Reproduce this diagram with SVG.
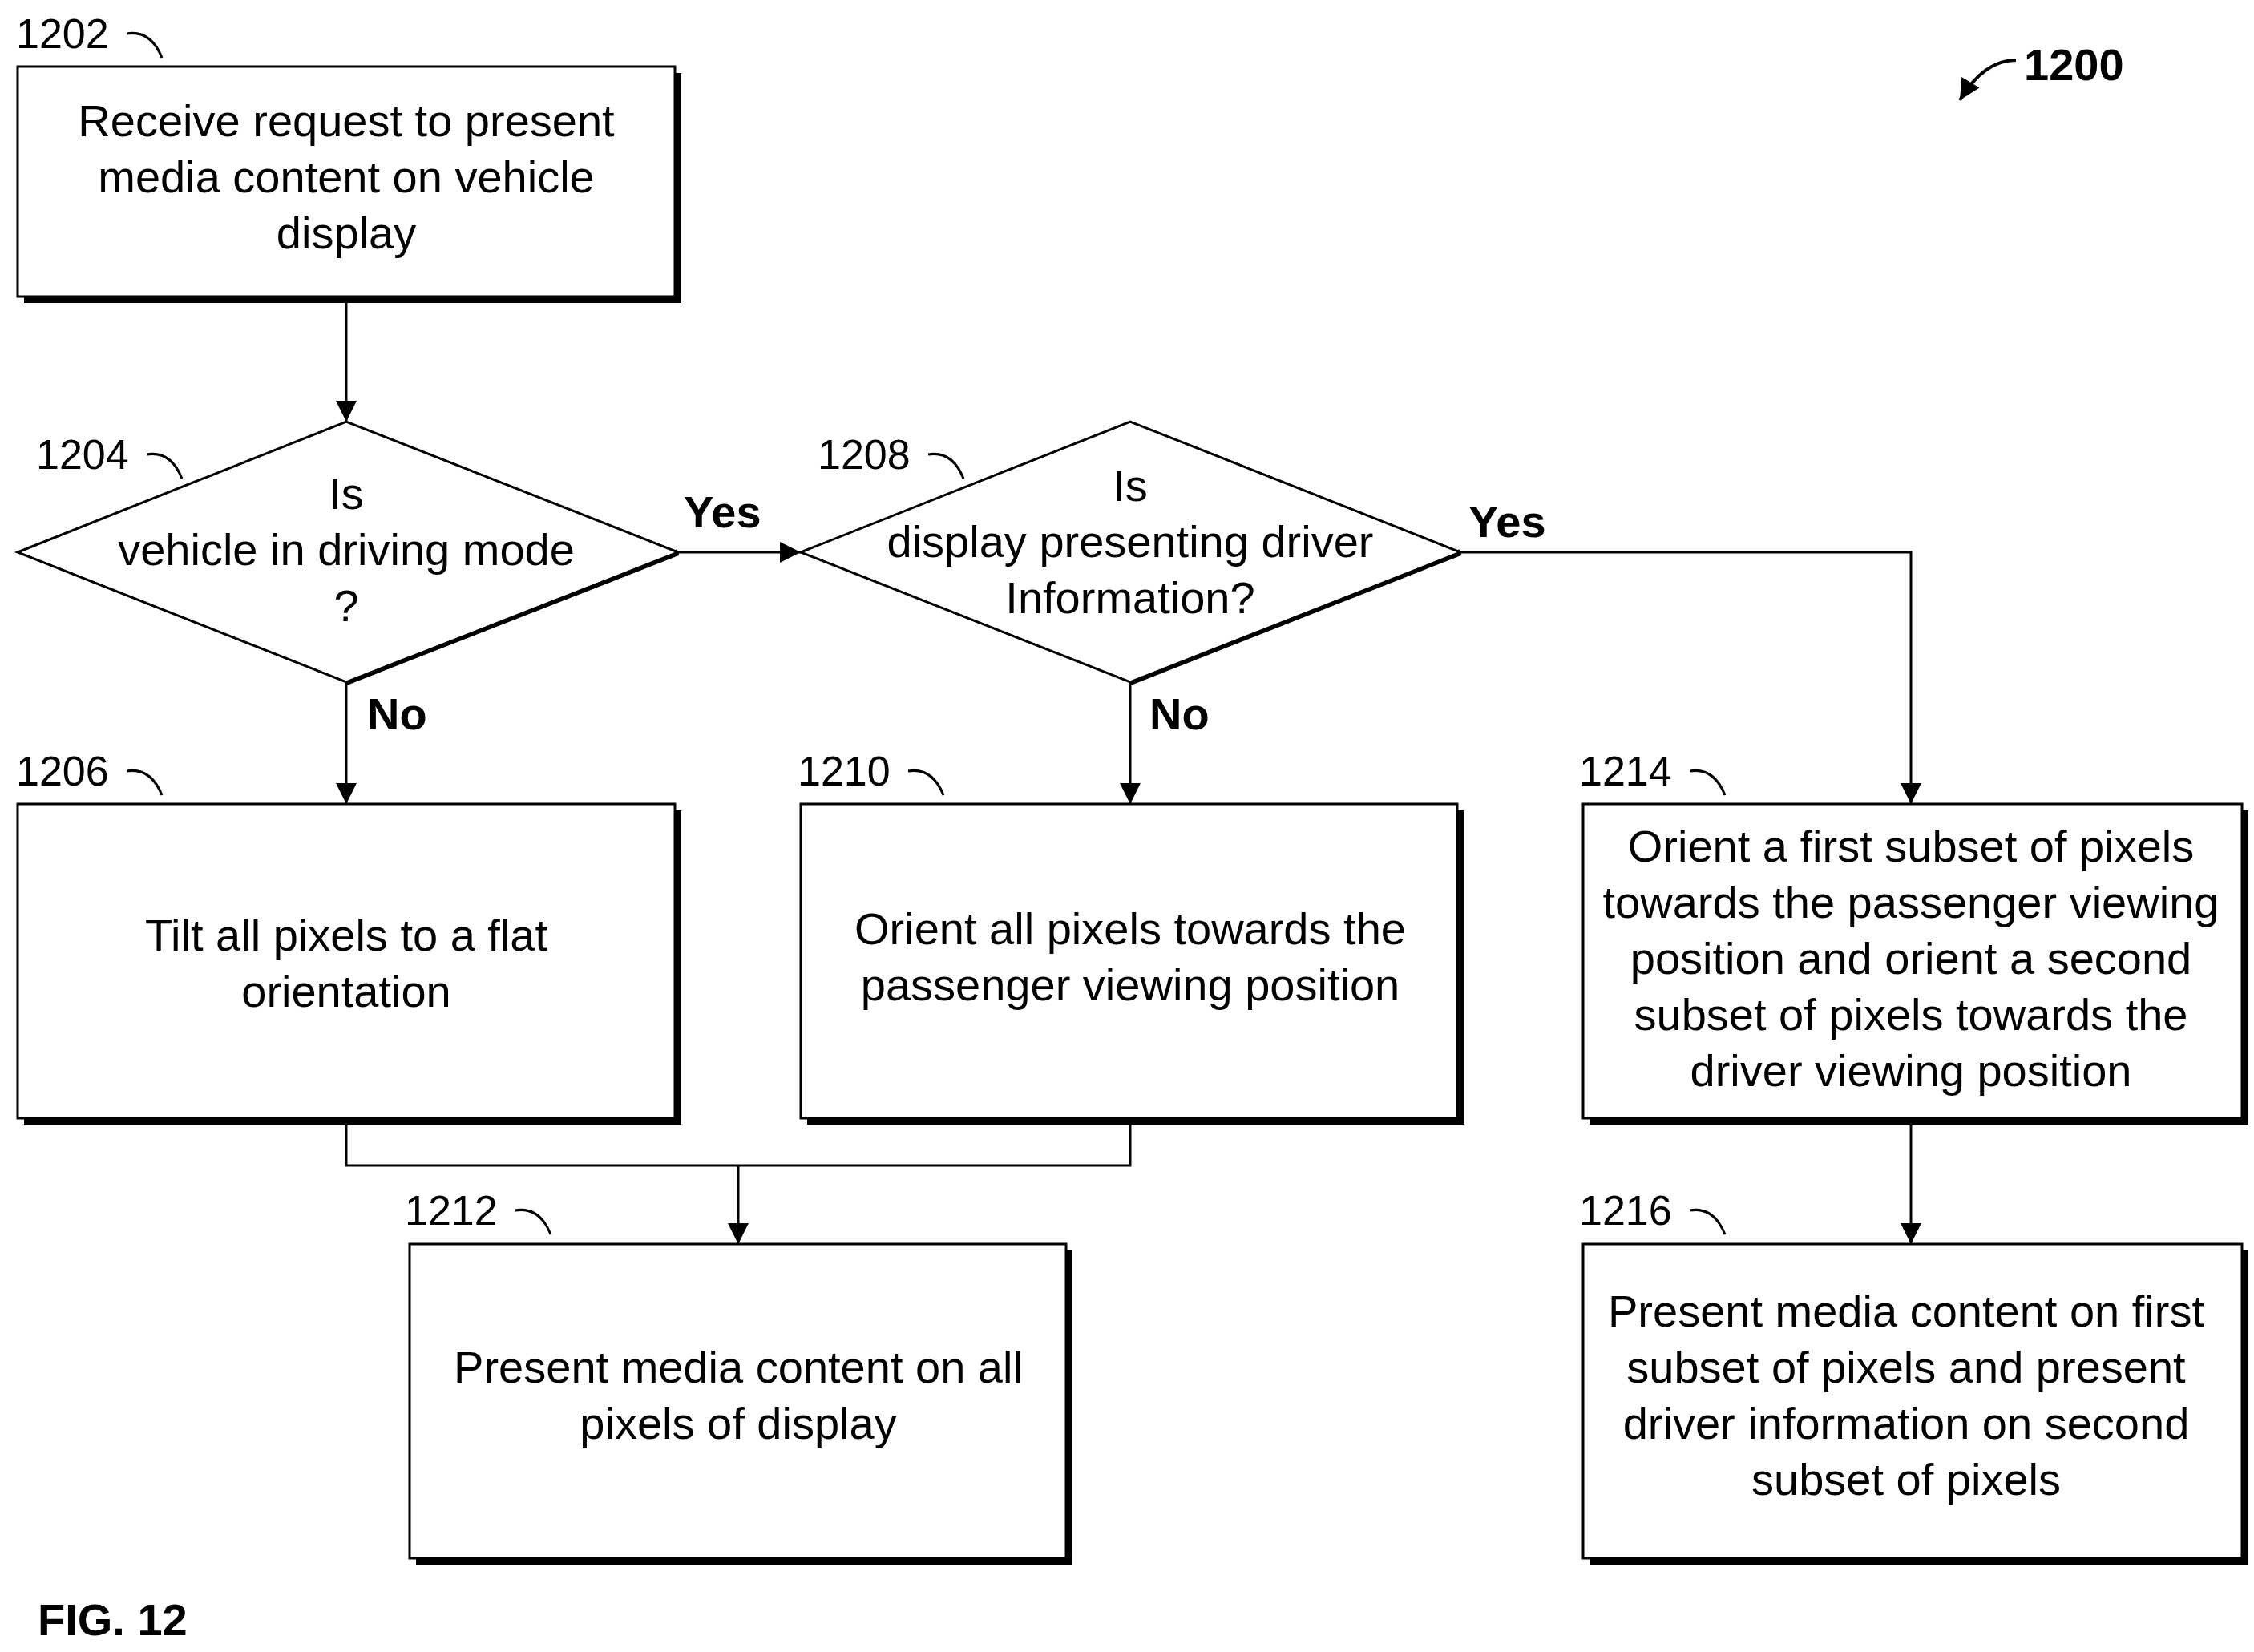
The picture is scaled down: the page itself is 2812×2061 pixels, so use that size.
<svg xmlns="http://www.w3.org/2000/svg" width="2812" height="2061" viewBox="0 0 2812 2061">
<defs>
<style>
.b{fill:#fff;stroke:#000;stroke-width:3}
.s{fill:none;stroke:#000;stroke-width:8}
.t{font-family:"Liberation Sans",Arial,sans-serif;font-size:56px;text-anchor:middle}
.r{font-family:"Liberation Sans",Arial,sans-serif;font-size:52px}
.y{font-family:"Liberation Sans",Arial,sans-serif;font-size:56px;font-weight:bold}
.c{fill:none;stroke:#000;stroke-width:3}
</style>
<marker id="a" viewBox="0 0 10 10" refX="10" refY="5" markerWidth="10" markerHeight="10" markerUnits="userSpaceOnUse" orient="auto"><path d="M0,0L10,5L0,10z"/></marker>
<marker id="A" viewBox="0 0 10 10" refX="10" refY="5" markerWidth="30" markerHeight="26" markerUnits="userSpaceOnUse" orient="auto"><path d="M0,0L10,5L0,10z"/></marker>
</defs>
<rect width="2812" height="2061" fill="#fff"/>
<g id="connectors" fill="none" stroke="#000" stroke-width="3">
<path d="M432,374V526" marker-end="url(#A)"/>
<path d="M846,689H999" marker-end="url(#A)"/>
<path d="M432,851V1003" marker-end="url(#A)"/>
<path d="M1410,851V1003" marker-end="url(#A)"/>
<path d="M1822,689H2384V1003" marker-end="url(#A)"/>
<path d="M432,1399V1454H1410V1399M921,1454V1552" marker-end="url(#A)"/>
<path d="M2384,1399V1552" marker-end="url(#A)"/>
</g>
<g id="n1202"><path class="s" d="M30,374H846V91"/><rect class="b" x="22" y="83" width="820" height="287"/>
<text class="t" x="432" y="170">Receive request to present</text><text class="t" x="432" y="240">media content on vehicle</text><text class="t" x="432" y="310">display</text>
<text class="r" x="20" y="60">1202</text><path class="c" d="M158,42q30,-5 44,30"/></g>
<g id="n1204"><path class="s" d="M432,851L846,689"/><polygon class="b" points="22,689 432,526 846,689 432,851"/>
<text class="t" x="432" y="635">Is</text><text class="t" x="432" y="705">vehicle in driving mode</text><text class="t" x="432" y="775">?</text>
<text class="r" x="45" y="585">1204</text><path class="c" d="M183,567q30,-5 44,30"/></g>
<g id="n1208"><path class="s" d="M1410,851L1822,689"/><polygon class="b" points="999,689 1410,526 1822,689 1410,851"/>
<text class="t" x="1410" y="625">Is</text><text class="t" x="1410" y="695">display presenting driver</text><text class="t" x="1410" y="765">Information?</text>
<text class="r" x="1020" y="585">1208</text><path class="c" d="M1158,567q30,-5 44,30"/></g>
<g id="n1206"><path class="s" d="M30,1399H846V1011"/><rect class="b" x="22" y="1003" width="820" height="392"/>
<text class="t" x="432" y="1186">Tilt all pixels to a flat</text><text class="t" x="432" y="1256">orientation</text>
<text class="r" x="20" y="980">1206</text><path class="c" d="M158,962q30,-5 44,30"/></g>
<g id="n1210"><path class="s" d="M1007,1399H1822V1011"/><rect class="b" x="999" y="1003" width="819" height="392"/>
<text class="t" x="1410" y="1178">Orient all pixels towards the</text><text class="t" x="1410" y="1248">passenger viewing position</text>
<text class="r" x="995" y="980">1210</text><path class="c" d="M1133,962q30,-5 44,30"/></g>
<g id="n1214"><path class="s" d="M1983,1399H2801V1011"/><rect class="b" x="1975" y="1003" width="822" height="392"/>
<text class="t" x="2384" y="1075">Orient a first subset of pixels</text><text class="t" x="2384" y="1145">towards the passenger viewing</text><text class="t" x="2384" y="1215">position and orient a second</text><text class="t" x="2384" y="1285">subset of pixels towards the</text><text class="t" x="2384" y="1355">driver viewing position</text>
<text class="r" x="1970" y="980">1214</text><path class="c" d="M2108,962q30,-5 44,30"/></g>
<g id="n1212"><path class="s" d="M519,1948H1334V1560"/><rect class="b" x="511" y="1552" width="819" height="392"/>
<text class="t" x="921" y="1725">Present media content on all</text><text class="t" x="921" y="1795">pixels of display</text>
<text class="r" x="505" y="1528">1212</text><path class="c" d="M643,1510q30,-5 44,30"/></g>
<g id="n1216"><path class="s" d="M1983,1948H2801V1560"/><rect class="b" x="1975" y="1552" width="822" height="392"/>
<text class="t" x="2378" y="1655">Present media content on first</text><text class="t" x="2378" y="1725">subset of pixels and present</text><text class="t" x="2378" y="1795">driver information on second</text><text class="t" x="2378" y="1865">subset of pixels</text>
<text class="r" x="1970" y="1528">1216</text><path class="c" d="M2108,1510q30,-5 44,30"/></g>
<g id="labels">
<text class="y" x="853" y="658">Yes</text>
<text class="y" x="1832" y="670">Yes</text>
<text class="y" x="458" y="910">No</text>
<text class="y" x="1434" y="910">No</text>
<text class="y" x="2525" y="100">1200</text>
<path d="M2515,75q-40,0 -70,50" fill="none" stroke="#000" stroke-width="4" marker-end="url(#A)"/>
<text class="y" x="47" y="2040">FIG. 12</text>
</g>
</svg>
